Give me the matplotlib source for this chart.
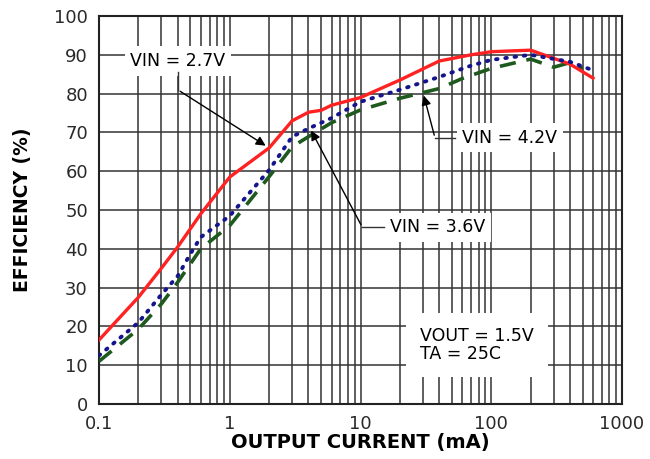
import matplotlib
matplotlib.use("Agg")
import matplotlib.pyplot as plt

plt.rcParams['font.family'] = ['DejaVu Sans']

# VIN = 2.7V (red solid)
i_27 = [0.1, 0.2, 0.3, 0.4, 0.6, 1, 2, 3, 4, 5, 6, 10, 20, 40, 70, 100, 200, 400, 600]
eff_27 = [16.5, 27.5, 35, 40.5, 49, 58.5, 66, 73, 75.2, 75.7, 77, 79, 83.5, 88.4, 90, 90.8, 91.2, 87.6, 84]

# VIN = 3.6V (blue dotted)
i_36 = [0.1, 0.2, 0.3, 0.4, 0.5, 0.6, 1, 2, 3, 4, 6, 10, 20, 40, 70, 100, 200, 400, 600]
eff_36 = [12.5, 21, 28.2, 33, 38.7, 43, 48.5, 60.3, 68.9, 71, 73.7, 77.9, 81, 84.3, 87.2, 88.7, 90, 88.2, 86]

# VIN = 4.2V (green dashed)
i_42 = [0.1, 0.2, 0.3, 0.4, 0.6, 1, 2, 3, 4, 6, 10, 20, 40, 60, 100, 200, 300, 400, 500]
eff_42 = [11, 19.3, 25.8, 31.4, 40, 46, 58.6, 66.3, 68.9, 72.5, 75.8, 78.8, 81.3, 83.9, 86.5, 88.9, 86.8, 88, 86.5]

xticks = [0.1, 1, 10, 100, 1000]
xticklabels = ['0.1', '1', '10', '100', '1000']
yticks = list(range(0, 101, 10))

fig = plt.figure(figsize=(6.5, 4.59), dpi=100)
ax = fig.add_axes([0.1523, 0.1198, 0.8047, 0.8453])

ax.set_xscale('log')
ax.set_xlim(0.1, 1000)
ax.set_ylim(0, 100)

ax.plot(i_27, eff_27, color='#ff2222', lw=2.4, zorder=4)
ax.plot(i_36, eff_36, color='#14148c', lw=2.8, linestyle=(0, (0.4, 2.0)),
        dash_capstyle='round', zorder=4)
ax.plot(i_42, eff_42, color='#1e5a1e', lw=2.6, linestyle=(0, (4.5, 3)), zorder=3)

ax.set_xticks(xticks)
ax.set_xticklabels(xticklabels)
ax.set_yticks(yticks)
ax.tick_params(axis='both', which='both', length=0, labelsize=13, colors='#2a2a2a')
ax.tick_params(axis='x', pad=8)
ax.tick_params(axis='y', pad=8)
ax.grid(True, which='both', color='#333333', lw=1.1)
for s in ax.spines.values():
    s.set_color('#222222')
    s.set_linewidth(1.5)

ax.set_xlabel('OUTPUT CURRENT (mA)', fontsize=14, fontweight='bold', labelpad=0)
ax.set_ylabel('EFFICIENCY (%)', fontsize=13.5, fontweight='bold', labelpad=16)

box = dict(facecolor='white', edgecolor='none', pad=4)
lc = '#333333'

# VIN = 2.7V
ax.text(0.40, 88.4, 'VIN = 2.7V', fontsize=12.5, ha='center', va='center', bbox=box, zorder=5)
ax.plot([0.40, 0.40], [85.5, 81], color=lc, lw=1, zorder=5)
ax.annotate('', xy=(1.96, 66.2), xytext=(0.40, 81),
            arrowprops=dict(arrowstyle='-|>', color='black', lw=1, mutation_scale=14), zorder=5)

# VIN = 3.6V
ax.text(16.8, 45.6, 'VIN = 3.6V', fontsize=12.5, ha='left', va='center', bbox=box, zorder=5)
ax.plot([15.0, 10.3], [45.6, 45.6], color=lc, lw=1, zorder=5)
ax.annotate('', xy=(4.1, 71.1), xytext=(10.3, 45.6),
            arrowprops=dict(arrowstyle='-|>', color='black', lw=1, mutation_scale=14), zorder=5)

# VIN = 4.2V
ax.text(60, 68.6, 'VIN = 4.2V', fontsize=12.5, ha='left', va='center', bbox=box, zorder=5)
ax.plot([53, 37.1], [68.6, 68.6], color=lc, lw=1, zorder=5)
ax.annotate('', xy=(30.1, 80.2), xytext=(37.1, 68.6),
            arrowprops=dict(arrowstyle='-|>', color='black', lw=1, mutation_scale=14), zorder=5)

ax.text(28.5, 15.2, 'VOUT = 1.5V\nTA = 25C', fontsize=12.5, ha='left', va='center',
        linespacing=1.05, bbox=dict(facecolor='white', edgecolor='none', pad=10), zorder=5)

fig.savefig('out.png', dpi=100)
